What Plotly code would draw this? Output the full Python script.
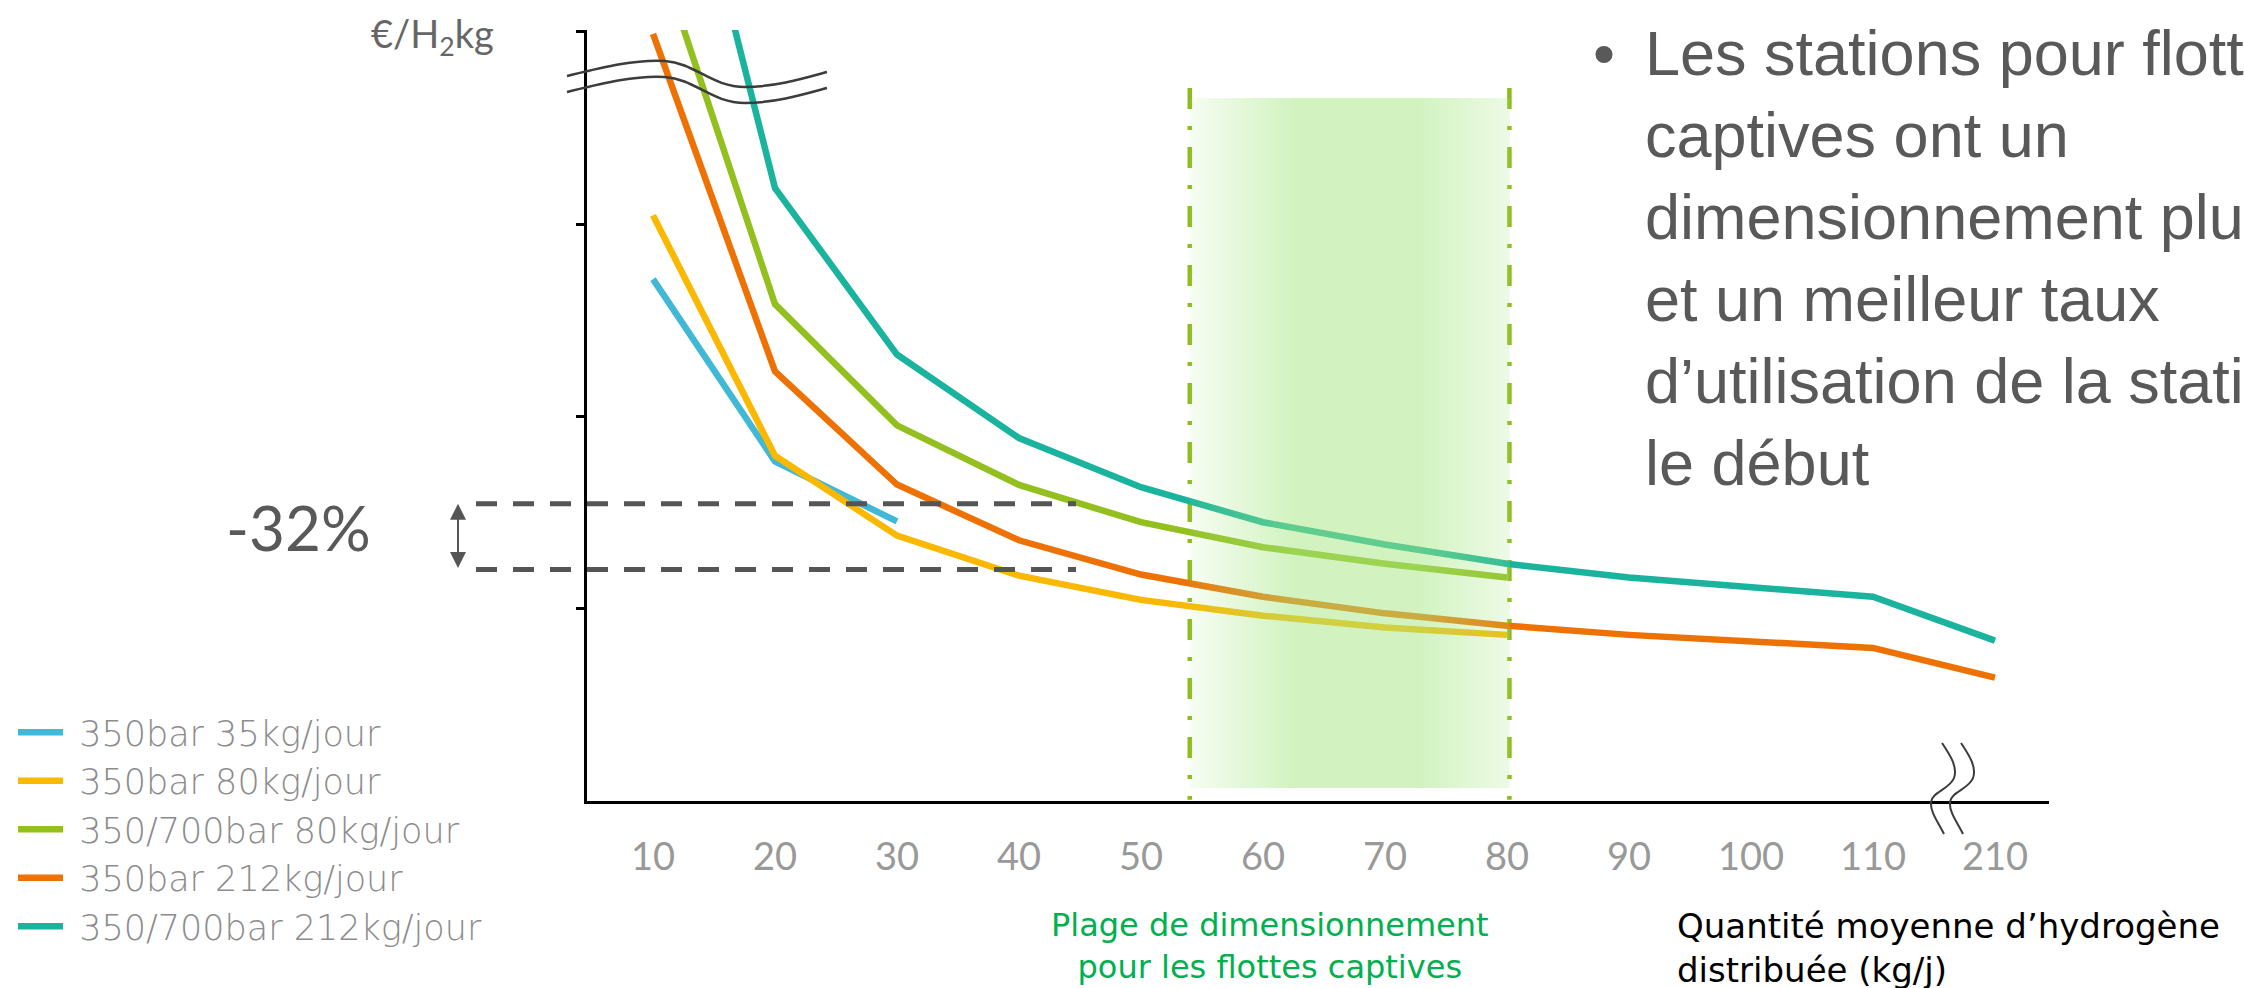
import numpy as np
import plotly.graph_objects as go

# Quantité moyenne d'hydrogène distribuée (kg/j) : catégories de l'axe horizontal
CATEGORIES = ["10", "20", "30", "40", "50", "60", "70", "80", "90", "100", "110", "210"]

# Coût de l'hydrogène (€/kg, échelle schématique) par configuration de station
COST_350_35 = [13.57, 8.83, 7.27]
COST_350_80 = [15.23, 8.98, 6.90, 5.86, 5.23, 4.82, 4.51, 4.32]
COST_350_700_80 = [22.47, 12.92, 9.77, 8.22, 7.25, 6.60, 6.17, 5.81]
COST_350_212 = [19.95, 11.17, 8.23, 6.78, 5.89, 5.31, 4.88, 4.56, 4.32, 4.14, 3.98, 3.21]
COST_350_700_212 = [28.49, 15.94, 11.61, 9.44, 8.16, 7.25, 6.67, 6.17, 5.81, 5.55, 5.31, 4.17]

SERIES_NAMES = [
    "350bar 35kg/jour",
    "350bar 80kg/jour",
    "350/700bar 80kg/jour",
    "350bar 212kg/jour",
    "350/700bar 212kg/jour",
]
SERIES_VALUES = [COST_350_35, COST_350_80, COST_350_700_80, COST_350_212, COST_350_700_212]
SERIES_COLORS = ["#40B8D6", "#FBB800", "#93BF1F", "#EE7203", "#1AB39D"]

# Écart de coût mis en évidence entre les deux niveaux de référence
REDUCTION_LABEL = "-32%"
REF_HIGH = 7.73
REF_LOW = 6.02

# Plage de dimensionnement pour les flottes captives (kg/j)
BAND_KG = (54.0, 80.2)
BAND_COST = (0.34, 18.28)

Y_TICKS = [5, 10, 15, 20]
Y_MAX = 20.05
X_RANGE = [-0.541, 11.443]

# ---- page geometry (pixels) -------------------------------------------------
W, H = 2244, 988
ML, MR, MT, MB = 587, 195, 30, 187
PW, PH = W - ML - MR, H - MT - MB


def px(x):
    return (x - ML) / PW


def py(y):
    return (H - MB - y) / PH


def kg_to_pos(kg):
    return (kg - 10.0) / 10.0


def wave_path(points):
    """Cubic path given in pixel coordinates, converted to paper coordinates."""
    parts = []
    x, y = points[0]
    parts.append(f"M{px(x):.5f},{py(y):.5f}")
    rest = points[1:]
    for i in range(0, len(rest), 3):
        seg = rest[i:i + 3]
        parts.append("C" + " ".join(f"{px(a):.5f},{py(b):.5f}" for a, b in seg))
    return " ".join(parts)


positions = list(range(len(CATEGORIES)))
NBSP = "\u00a0"

fig = go.Figure()

for name, vals, col in zip(SERIES_NAMES, SERIES_VALUES, SERIES_COLORS):
    fig.add_trace(go.Scatter(
        x=positions[:len(vals)], y=vals, mode="lines", name=NBSP + name,
        line=dict(color=col, width=6.5),
        hoverinfo="skip",
    ))

# translucent green band laid over the curves (overlay axes), fading at both edges
bx0, bx1 = kg_to_pos(BAND_KG[0]), kg_to_pos(BAND_KG[1])
n_cols = 160
edges = np.linspace(bx0, bx1, n_cols + 1)
t = (np.arange(n_cols) + 0.5) / n_cols
alpha = np.interp(t, [0.0, 0.08, 0.32, 0.72, 0.9, 1.0], [0.1, 0.2, 0.5, 0.5, 0.3, 0.2])
fig.add_trace(go.Heatmap(
    x=edges, y=list(BAND_COST), z=[alpha.tolist()],
    xaxis="x2", yaxis="y2",
    zmin=0, zmax=1, showscale=False, zsmooth=False, hoverinfo="skip",
    colorscale=[[0, "rgba(165,231,129,0)"], [1, "rgba(165,231,129,1)"]],
    showlegend=False,
))

shapes = []
# dash-dot limits of the band
for bx in (bx0, bx1):
    shapes.append(dict(
        type="line", xref="x", yref="y", x0=bx, x1=bx, y0=18.54, y1=0.03,
        line=dict(color="#8DBB1C", width=4.5, dash="21px,17px,4px,17px"),
        layer="below",
    ))

# dashed reference levels
for lvl in (REF_HIGH, REF_LOW):
    shapes.append(dict(
        type="line", xref="paper", yref="y", x0=px(476), x1=px(1076), y0=lvl, y1=lvl,
        line=dict(color="#555555", width=5, dash="21px,16px"),
    ))

# broken y axis marker
top_wave = [(567, 76), (600, 68), (635, 59), (665, 61),
            (695, 63), (712, 87), (745, 87),
            (775, 87), (805, 78), (827, 72)]
for dy in (0, 16):
    shapes.append(dict(
        type="path", xref="paper", yref="paper",
        path=wave_path([(a, b + dy) for a, b in top_wave]),
        line=dict(color="#3C3C3C", width=2.5),
    ))

# broken x axis marker
bottom_wave = [(1942, 743), (1950, 755), (1958, 767), (1954, 778),
               (1950, 789), (1932, 792), (1931, 802),
               (1930, 812), (1938, 822), (1944, 834)]
for dx in (0, 19):
    shapes.append(dict(
        type="path", xref="paper", yref="paper",
        path=wave_path([(a + dx, b) for a, b in bottom_wave]),
        line=dict(color="#3C3C3C", width=2),
    ))

annotations = [
    dict(text="€/H<sub>2</sub>kg", xref="paper", yref="paper", x=px(369), y=py(36),
         xanchor="left", yanchor="middle", showarrow=False,
         font=dict(family="Lato", size=38, color="#666666")),
    dict(text=REDUCTION_LABEL, xref="paper", yref="paper", x=px(298), y=py(527),
         xanchor="center", yanchor="middle", showarrow=False,
         font=dict(family="Lato", size=62, color="#595959")),
    dict(text="", xref="paper", yref="y", x=px(458), y=REF_HIGH,
         axref="pixel", ayref="y", ax=0, ay=REF_LOW,
         showarrow=True, arrowside="end+start", arrowhead=2, arrowsize=1.6,
         arrowwidth=2, arrowcolor="#555555"),
    dict(text="Plage de dimensionnement<br>pour les flottes captives",
         xref="paper", yref="paper", x=px(1270), y=py(946),
         xanchor="center", yanchor="middle", showarrow=False, align="center",
         font=dict(family="DejaVu Sans", size=32, color="#00B050")),
    dict(text="Quantité moyenne d’hydrogène<br>distribuée (kg/j)",
         xref="paper", yref="paper", x=px(1675), y=py(948),
         xanchor="left", yanchor="middle", showarrow=False, align="left",
         font=dict(family="DejaVu Sans", size=34, color="#000000")),
]

bullet_lines = [
    "Les stations pour flottes",
    "captives ont un",
    "dimensionnement plus adapté",
    "et un meilleur taux",
    "d’utilisation de la station dès",
    "le début",
]
baselines = [72, 154, 236, 318, 400, 482]
text_font = dict(family="Liberation Sans, Arial", size=63, color="#595959")
annotations.append(dict(text="•", xref="paper", yref="paper", x=px(1604),
                        y=py(baselines[0] - 19), xanchor="center", yanchor="middle",
                        showarrow=False, font=text_font))
for line, base in zip(bullet_lines, baselines):
    annotations.append(dict(text=line, xref="paper", yref="paper", x=px(1643),
                            y=py(base - 19), xanchor="left", yanchor="middle",
                            showarrow=False, font=text_font))

fig.update_layout(
    width=W, height=H,
    margin=dict(l=ML, r=MR, t=MT, b=MB, pad=0),
    paper_bgcolor="white", plot_bgcolor="white",
    shapes=shapes, annotations=annotations,
    showlegend=True,
    legend=dict(x=px(13), y=py(703), xanchor="left", yanchor="top",
                font=dict(family="DejaVu Sans", size=35, color="#8C8C8C", weight=300),
                bgcolor="rgba(0,0,0,0)", itemwidth=45, tracegroupgap=0,
                traceorder="normal"),
    xaxis=dict(
        range=X_RANGE, tickvals=positions, ticktext=CATEGORIES,
        showline=True, linecolor="black", linewidth=3, ticks="",
        showgrid=False, zeroline=False, ticklabelstandoff=20,
        tickfont=dict(family="Lato", size=38, color="#999999"),
    ),
    yaxis=dict(
        range=[0, Y_MAX], tickvals=Y_TICKS, showticklabels=False,
        showline=True, linecolor="black", linewidth=2.5,
        ticks="outside", ticklen=8, tickwidth=3, tickcolor="black",
        showgrid=False, zeroline=False,
    ),
    xaxis2=dict(range=X_RANGE, overlaying="x", visible=False, fixedrange=True),
    yaxis2=dict(range=[0, Y_MAX], overlaying="y", visible=False, fixedrange=True),
)

fig.write_html("out.html", config={"displayModeBar": False},
               post_script="document.body.style.margin='0';")
